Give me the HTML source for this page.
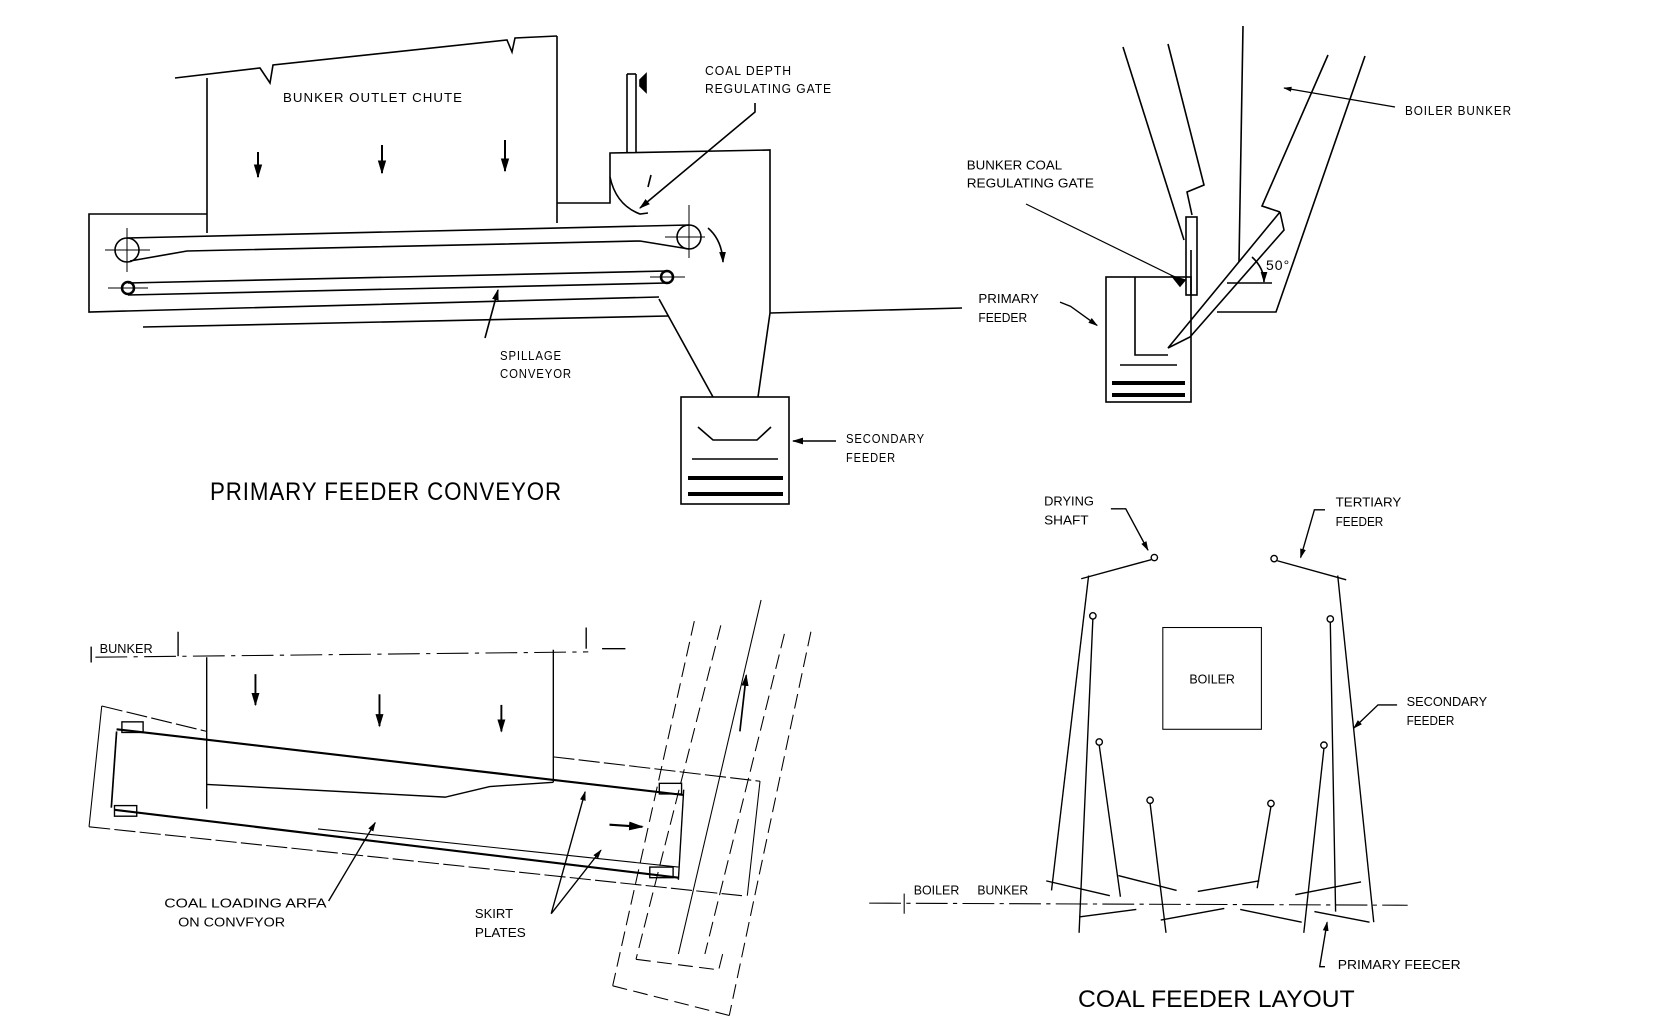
<!DOCTYPE html>
<html><head><meta charset="utf-8"><style>
html,body{margin:0;padding:0;background:#fff;}
svg{display:block}
text{font-family:"Liberation Sans",sans-serif;fill:#000;}
</style></head><body>
<svg width="1668" height="1036" viewBox="0 0 1668 1036" xmlns="http://www.w3.org/2000/svg">
<defs>
<marker id="ah" viewBox="0 0 10 10" refX="9" refY="5" markerWidth="7" markerHeight="7" orient="auto-start-reverse"><path d="M0,2 L10,5 L0,8 z" fill="#000"/></marker>
</defs>
<rect width="1668" height="1036" fill="#fff"/>
<g fill="none" stroke="#000" stroke-width="1.6">
<polyline points="175,78 260,68 270,83 273,65 507,40 512,52 515,38 557,36"/>
<line x1="207" y1="78" x2="207" y2="233"/>
<line x1="557" y1="36" x2="557" y2="223"/>
<polyline points="557,203 610,203 610,153 770,150 770,313 758,397"/>
<polyline points="659,299 713,397"/>
<rect x="681" y="397" width="108" height="107"/>
<polyline points="698,427 713,440 757,440 771,427"/>
<line x1="692" y1="459" x2="778" y2="459"/>
<line x1="688" y1="478" x2="783" y2="478" stroke-width="4"/>
<line x1="688" y1="494" x2="783" y2="494" stroke-width="4"/>
<line x1="770" y1="313" x2="962" y2="308"/>
<path d="M610,177 Q616,205 640,214 L648,213"/>
<line x1="627" y1="153" x2="627" y2="74"/><line x1="636" y1="153" x2="636" y2="74"/>
<line x1="627" y1="74" x2="636" y2="74"/>
<path d="M640,80 L646,74 L646,92 L640,86 z" fill="#000"/>
<line x1="651" y1="175" x2="648" y2="187"/>
<polyline points="755,103 755,112 640,208" marker-end="url(#ah)"/>
<polyline points="207,214 89,214 89,312 659,297"/>
<line x1="143" y1="327" x2="668" y2="316"/>
<circle cx="127" cy="250" r="12"/>
<circle cx="689" cy="237" r="12"/>
<line x1="127" y1="238" x2="689" y2="225"/>
<polyline points="130,261 187,251 640,241 689,249"/>
<line x1="105" y1="250" x2="150" y2="250" stroke-width="1"/><line x1="127" y1="228" x2="127" y2="272" stroke-width="1"/>
<line x1="665" y1="237" x2="705" y2="237" stroke-width="1"/><line x1="689" y1="205" x2="689" y2="258" stroke-width="1"/>
<circle cx="128" cy="288" r="6" stroke-width="2.5"/>
<circle cx="667" cy="277" r="6" stroke-width="2.5"/>
<line x1="128" y1="283" x2="667" y2="271"/>
<line x1="128" y1="295" x2="667" y2="283"/>
<line x1="108" y1="288" x2="148" y2="288" stroke-width="1"/>
<line x1="650" y1="277" x2="685" y2="277" stroke-width="1"/>
<path d="M708,228 Q722,240 723,262" marker-end="url(#ah)"/>
<line x1="258" y1="152" x2="258" y2="177" marker-end="url(#ah)" stroke-width="2"/>
<line x1="382" y1="145" x2="382" y2="173" marker-end="url(#ah)" stroke-width="2"/>
<line x1="505" y1="140" x2="505" y2="171" marker-end="url(#ah)" stroke-width="2"/>
<line x1="485" y1="338" x2="498" y2="290" marker-end="url(#ah)"/>
<line x1="836" y1="441" x2="793" y2="441" marker-end="url(#ah)"/>

<!-- TOP RIGHT -->
<line x1="1123" y1="47" x2="1184" y2="240"/>
<polyline points="1168,44 1204,185 1187,192 1192,215"/>
<rect x="1186" y="217" width="11" height="78"/>
<line x1="1191" y1="250" x2="1191" y2="295"/>
<line x1="1243" y1="26" x2="1239" y2="262"/>
<polyline points="1328,55 1262,206 1280,212"/>
<polyline points="1365,56 1276,312 1217,312"/>
<polyline points="1280,212 1284,230 1190,337 1168,348 1280,212"/>
<line x1="1227" y1="283" x2="1272" y2="283"/>
<path d="M1252,257 Q1264,268 1264,282" marker-end="url(#ah)"/>
<rect x="1106" y="277" width="85" height="125"/>
<polyline points="1135,277 1135,355 1168,355"/>
<line x1="1120" y1="365" x2="1177" y2="365"/>
<line x1="1112" y1="383" x2="1185" y2="383" stroke-width="4"/>
<line x1="1112" y1="395" x2="1185" y2="395" stroke-width="4"/>
<line x1="1026" y1="204" x2="1177" y2="278" stroke-width="1.2"/>
<path d="M1172,276 L1185,280 L1180,286 z" fill="#000"/>
<line x1="1395" y1="107" x2="1284" y2="88" stroke-width="1.2" marker-end="url(#ah)"/>
</g>

<g font-size="13" letter-spacing="1">
<text x="283" y="102" textLength="180" lengthAdjust="spacingAndGlyphs">BUNKER  OUTLET  CHUTE</text>
<text x="705" y="75" textLength="87" lengthAdjust="spacingAndGlyphs">COAL DEPTH</text>
<text x="705" y="93" textLength="127" lengthAdjust="spacingAndGlyphs">REGULATING GATE</text>
<text x="500" y="360" textLength="62" lengthAdjust="spacingAndGlyphs">SPILLAGE</text>
<text x="500" y="378" textLength="72" lengthAdjust="spacingAndGlyphs">CONVEYOR</text>
<text x="846" y="443" textLength="79" lengthAdjust="spacingAndGlyphs">SECONDARY</text>
<text x="846" y="462" textLength="50" lengthAdjust="spacingAndGlyphs">FEEDER</text>
<text x="1405" y="115" textLength="107" lengthAdjust="spacingAndGlyphs">BOILER BUNKER</text>
<text x="1266" y="270" font-size="14">50°</text>
<text x="210" y="500" font-size="25" textLength="352" lengthAdjust="spacingAndGlyphs">PRIMARY FEEDER CONVEYOR</text>
</g>

<g transform="scale(1.06)">
<g font-size="12.5">
<text x="912" y="160" textLength="90" lengthAdjust="spacingAndGlyphs">BUNKER COAL</text>
<text x="912" y="177" textLength="120" lengthAdjust="spacingAndGlyphs">REGULATING GATE</text>
<text x="923" y="286" textLength="57" lengthAdjust="spacingAndGlyphs">PRIMARY</text>
<text x="923" y="304" textLength="46" lengthAdjust="spacingAndGlyphs">FEEDER</text>
<text x="985" y="477" textLength="47" lengthAdjust="spacingAndGlyphs">DRYING</text>
<text x="985" y="495" textLength="42" lengthAdjust="spacingAndGlyphs">SHAFT</text>
<text x="1260" y="478" textLength="62" lengthAdjust="spacingAndGlyphs">TERTIARY</text>
<text x="1260" y="496" textLength="45" lengthAdjust="spacingAndGlyphs">FEEDER</text>
<text x="1122" y="645" textLength="43" lengthAdjust="spacingAndGlyphs">BOILER</text>
<text x="1327" y="666" textLength="76" lengthAdjust="spacingAndGlyphs">SECONDARY</text>
<text x="1327" y="684" textLength="45" lengthAdjust="spacingAndGlyphs">FEEDER</text>
<text x="862" y="844" textLength="43" lengthAdjust="spacingAndGlyphs">BOILER</text>
<text x="922" y="844" textLength="48" lengthAdjust="spacingAndGlyphs">BUNKER</text>
<text x="1262" y="914" textLength="116" lengthAdjust="spacingAndGlyphs">PRIMARY  FEECER</text>
<text x="1017" y="950" font-size="23" textLength="261" lengthAdjust="spacingAndGlyphs">COAL FEEDER LAYOUT</text>
<text x="94" y="616" textLength="50" lengthAdjust="spacingAndGlyphs">BUNKER</text>
<text x="155" y="856" textLength="153" lengthAdjust="spacingAndGlyphs">COAL  LOADING  ARFA</text>
<text x="168" y="874" textLength="101" lengthAdjust="spacingAndGlyphs">ON  CONVFYOR</text>
<text x="448" y="866" textLength="36" lengthAdjust="spacingAndGlyphs">SKIRT</text>
<text x="448" y="884" textLength="48" lengthAdjust="spacingAndGlyphs">PLATES</text>
</g>
<g fill="none" stroke="#000" stroke-width="1.3">
<polyline points="1000,285 1010,289 1035,307" marker-end="url(#ah)"/>
<polyline points="1048,480 1062,480 1083,519" marker-end="url(#ah)"/>
<polyline points="1250,481 1240,481 1227,526" marker-end="url(#ah)"/>
<polyline points="1318,665 1300,665 1277,687" marker-end="url(#ah)"/>
<polyline points="1250,912 1245,912 1252,870" marker-end="url(#ah)"/>
<circle cx="1089" cy="526" r="3"/><line x1="1086" y1="528" x2="1020" y2="546"/>
<circle cx="1202" cy="527" r="3"/><line x1="1205" y1="529" x2="1270" y2="547"/>
<line x1="1027" y1="543" x2="992" y2="840"/>
<line x1="1262" y1="543" x2="1296" y2="870"/>
<circle cx="1031" cy="581" r="3"/><line x1="1031" y1="584" x2="1018" y2="880"/>
<circle cx="1255" cy="584" r="3"/><line x1="1255" y1="587" x2="1260" y2="860"/>
<circle cx="1037" cy="700" r="3"/><line x1="1037" y1="703" x2="1057" y2="846"/>
<circle cx="1249" cy="703" r="3"/><line x1="1249" y1="706" x2="1230" y2="880"/>
<circle cx="1085" cy="755" r="3"/><line x1="1085" y1="758" x2="1100" y2="880"/>
<circle cx="1199" cy="758" r="3"/><line x1="1199" y1="761" x2="1186" y2="838"/>
<rect x="1097" y="592" width="93" height="96" stroke-width="1"/>
<line x1="987" y1="831" x2="1047" y2="845"/>
<line x1="1055" y1="826" x2="1110" y2="840"/>
<line x1="1130" y1="841" x2="1188" y2="831"/>
<line x1="1222" y1="844" x2="1284" y2="832"/>
<line x1="1018" y1="865" x2="1072" y2="858"/>
<line x1="1095" y1="868" x2="1155" y2="857"/>
<line x1="1170" y1="858" x2="1228" y2="870"/>
<line x1="1240" y1="860" x2="1292" y2="870"/>
<line x1="820" y1="852" x2="1328" y2="854" stroke-width="1" stroke-dasharray="30,5,4,5"/>
<line x1="853" y1="843" x2="853" y2="862" stroke-width="1"/>
<line x1="90" y1="620" x2="555" y2="615" stroke-width="1" stroke-dasharray="30,6,4,6"/>
<line x1="86" y1="610" x2="86" y2="625"/>
<line x1="168" y1="596" x2="168" y2="619"/>
<line x1="553" y1="592" x2="553" y2="612"/>
<line x1="568" y1="612" x2="590" y2="612"/>
<line x1="195" y1="620" x2="195" y2="763"/>
<line x1="522" y1="613" x2="522" y2="738"/>
<line x1="241" y1="636" x2="241" y2="665" marker-end="url(#ah)" stroke-width="1.8"/>
<line x1="358" y1="655" x2="358" y2="685" marker-end="url(#ah)" stroke-width="1.8"/>
<line x1="473" y1="665" x2="473" y2="690" marker-end="url(#ah)" stroke-width="1.8"/>
<polyline points="96,666 84,780" stroke-width="1"/>
<line x1="96" y1="666" x2="195" y2="690" stroke-width="1" stroke-dasharray="20,4"/>
<line x1="522" y1="714" x2="717" y2="737" stroke-width="1" stroke-dasharray="20,4"/>
<line x1="84" y1="780" x2="700" y2="845" stroke-width="1" stroke-dasharray="20,4"/>
<line x1="717" y1="737" x2="705" y2="845" stroke-width="1"/>
<line x1="110" y1="688" x2="645" y2="750" stroke-width="2"/>
<line x1="110" y1="690" x2="105" y2="762" stroke-width="1.6"/>
<line x1="108" y1="764" x2="640" y2="828" stroke-width="2"/>
<line x1="300" y1="782" x2="640" y2="818" stroke-width="1"/>
<line x1="645" y1="745" x2="640" y2="830"/>
<polyline points="195,740 420,752 462,742 522,738"/>
<rect x="115" y="681" width="20" height="10"/>
<rect x="108" y="760" width="21" height="10"/>
<rect x="622" y="739" width="21" height="10"/>
<rect x="613" y="818" width="22" height="10"/>
<line x1="575" y1="778" x2="606" y2="780" marker-end="url(#ah)" stroke-width="2"/>
<line x1="310" y1="850" x2="354" y2="776" marker-end="url(#ah)"/>
<line x1="520" y1="862" x2="552" y2="747" marker-end="url(#ah)"/>
<line x1="520" y1="862" x2="567" y2="802" marker-end="url(#ah)"/>
<g stroke-width="1" stroke-dasharray="14,6">
<line x1="655" y1="586" x2="578" y2="930"/>
<line x1="680" y1="590" x2="600" y2="905"/>
<line x1="740" y1="598" x2="665" y2="900"/>
<line x1="765" y1="596" x2="688" y2="958"/>
<line x1="578" y1="930" x2="688" y2="958"/>
<polyline points="600,905 678,915 683,895"/>
</g>
<line x1="718" y1="566" x2="640" y2="900" stroke-width="1"/>
<line x1="698" y1="690" x2="704" y2="637" marker-end="url(#ah)" stroke-width="1.6"/>
</g>
</g>
</svg>
</body></html>
